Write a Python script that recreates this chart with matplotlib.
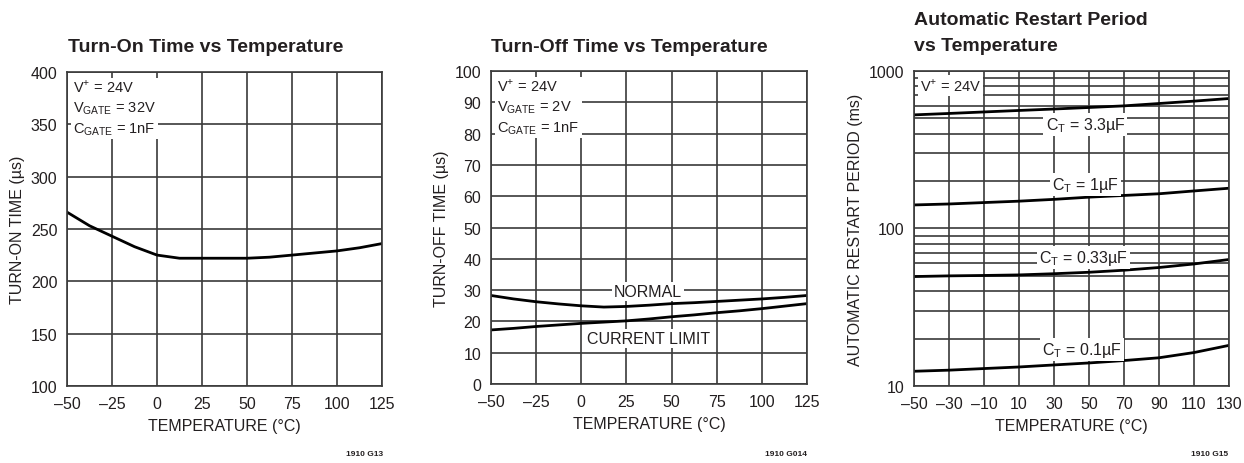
import matplotlib
matplotlib.use("Agg")
import matplotlib.pyplot as plt
from matplotlib.ticker import FixedLocator, LogLocator, NullFormatter, FuncFormatter

plt.rcParams['font.family'] = ['Liberation Sans Narrow', 'Liberation Sans', 'DejaVu Sans']
plt.rcParams['mathtext.fontset'] = 'custom'
plt.rcParams['mathtext.rm'] = 'Liberation Sans'

TXT = '#231f20'
GRID = '#3a3a3a'

# Turn-on time vs temperature
temp_on = [-50, -37.5, -25, -12.5, 0, 12.5, 25, 37.5, 50, 62.5, 75, 87.5, 100, 112.5, 125]
t_on = [266, 253, 243, 233, 225, 222, 222, 222, 222, 223, 225, 227, 229, 232, 236]

# Turn-off time vs temperature
temp_off = [-50, -37.5, -25, -12.5, 0, 12.5, 25, 37.5, 50, 62.5, 75, 87.5, 100, 112.5, 125]
t_off_normal = [28.3, 27.2, 26.3, 25.6, 25.0, 24.6, 24.8, 25.2, 25.7, 26.0, 26.4, 26.8, 27.2, 27.7, 28.3]
t_off_ilim = [17.3, 17.8, 18.4, 18.9, 19.4, 19.8, 20.2, 20.8, 21.5, 22.1, 22.8, 23.4, 24.1, 24.9, 25.7]

# Automatic restart period vs temperature
temp_rs = [-50, -30, -10, 10, 30, 50, 70, 90, 110, 130]
rs_3u3 = [526, 537, 549, 561, 573, 586, 600, 621, 643, 668]
rs_1u = [141, 143, 146, 149, 153, 158, 162, 166, 173, 180]
rs_0u33 = [49.5, 50.0, 50.3, 50.7, 51.6, 52.7, 54.3, 56.5, 59.5, 63.5]
rs_0u1 = [12.4, 12.6, 12.9, 13.2, 13.6, 14.0, 14.5, 15.1, 16.3, 18.1]
rs_labels = ['3.3µF', '1µF', '0.33µF', '0.1µF']

fig = plt.figure(figsize=(12.44, 4.64), dpi=100)
ax1 = fig.add_axes([0.0539, 0.166, 0.2532, 0.677])
ax2 = fig.add_axes([0.3947, 0.170, 0.2540, 0.675])
ax3 = fig.add_axes([0.7347, 0.166, 0.2532, 0.679])

def minus(v, pos=None):
    return f'{v:g}'.replace('-', '\u2013')

def style(ax):
    ax.tick_params(length=0, labelsize=11.5, colors=TXT, pad=7)
    for s in ax.spines.values():
        s.set_color(GRID)
        s.set_linewidth(1.2)
    ax.grid(True, which='both', color=GRID, linewidth=1.2)
    ax.set_axisbelow(True)
    ax.xaxis.set_major_formatter(FuncFormatter(minus))

box = dict(facecolor='white', edgecolor='none', pad=1.5)

# panel 1
ax1.plot(temp_on, t_on, color='black', lw=2.0)
ax1.set_xlim(-50, 125)
ax1.set_ylim(100, 400)
ax1.set_xticks(range(-50, 126, 25))
ax1.set_yticks(range(100, 401, 50))
style(ax1)
ax1.set_xlabel('TEMPERATURE (°C)', fontsize=11.5, color=TXT, labelpad=5)
ax1.set_ylabel('TURN-ON TIME (µs)', fontsize=11.5, color=TXT)
ax1.text(0.02, 0.98, 'V$^{+}$ = 24V\nV$_{\\mathregular{GATE}}$ = 32V\nC$_{\\mathregular{GATE}}$ = 1nF',
         transform=ax1.transAxes, va='top', ha='left', fontsize=10.5, color=TXT,
         bbox=box, linespacing=1.35)
fig.text(0.055, 0.888, 'Turn-On Time vs Temperature', fontsize=14, fontweight='bold', color=TXT)
fig.text(0.308, 0.018, '1910 G13', fontsize=6, fontweight='bold', color=TXT, ha='right')

# panel 2
ax2.plot(temp_off, t_off_normal, color='black', lw=2.0)
ax2.plot(temp_off, t_off_ilim, color='black', lw=2.0)
ax2.set_xlim(-50, 125)
ax2.set_ylim(0, 100)
ax2.set_xticks(range(-50, 126, 25))
ax2.set_yticks(range(0, 101, 10))
style(ax2)
ax2.set_xlabel('TEMPERATURE (°C)', fontsize=11.5, color=TXT, labelpad=5)
ax2.set_ylabel('TURN-OFF TIME (µs)', fontsize=11.5, color=TXT)
ax2.text(0.02, 0.98, 'V$^{+}$ = 24V\nV$_{\\mathregular{GATE}}$ = 2V\nC$_{\\mathregular{GATE}}$ = 1nF',
         transform=ax2.transAxes, va='top', ha='left', fontsize=10.5, color=TXT,
         bbox=box, linespacing=1.35)
ax2.text(37, 29.6, 'NORMAL', ha='center', va='center', fontsize=11.5, color=TXT, bbox=box)
ax2.text(37, 14.6, 'CURRENT LIMIT', ha='center', va='center', fontsize=11.5, color=TXT, bbox=box)
fig.text(0.395, 0.888, 'Turn-Off Time vs Temperature', fontsize=14, fontweight='bold', color=TXT)
fig.text(0.649, 0.018, '1910 G014', fontsize=6, fontweight='bold', color=TXT, ha='right')

# panel 3
for ser in (rs_3u3, rs_1u, rs_0u33, rs_0u1):
    ax3.plot(temp_rs, ser, color='black', lw=2.0)
ax3.set_yscale('log')
ax3.set_xlim(-50, 130)
ax3.set_ylim(10, 1000)
ax3.set_xticks(range(-50, 131, 20))
ax3.yaxis.set_major_locator(FixedLocator([10, 100, 1000]))
ax3.yaxis.set_minor_locator(LogLocator(base=10, subs=range(2, 10)))
ax3.yaxis.set_minor_formatter(NullFormatter())
ax3.yaxis.set_major_formatter(FuncFormatter(lambda v, p: f'{v:g}'))
style(ax3)
ax3.tick_params(which='minor', length=0)
ax3.set_xlabel('TEMPERATURE (°C)', fontsize=11.5, color=TXT, labelpad=5)
ax3.set_ylabel('AUTOMATIC RESTART PERIOD (ms)', fontsize=11.5, color=TXT)
ax3.text(0.02, 0.98, 'V$^{+}$ = 24V', transform=ax3.transAxes, va='top', ha='left',
         fontsize=10.5, color=TXT, bbox=box)
for lab, (x, y) in zip(rs_labels, [(48, 455), (48, 190), (47, 65), (46, 17.1)]):
    ax3.text(x, y, 'C$_{\\mathregular{T}}$ = ' + lab, ha='center', va='center',
             fontsize=11.5, color=TXT, bbox=box)
fig.text(0.7347, 0.975, 'Automatic Restart Period\nvs Temperature', fontsize=14,
         fontweight='bold', color=TXT, va='top', linespacing=1.7)
fig.text(0.987, 0.018, '1910 G15', fontsize=6, fontweight='bold', color=TXT, ha='right')

fig.savefig('out.png', dpi=100)
